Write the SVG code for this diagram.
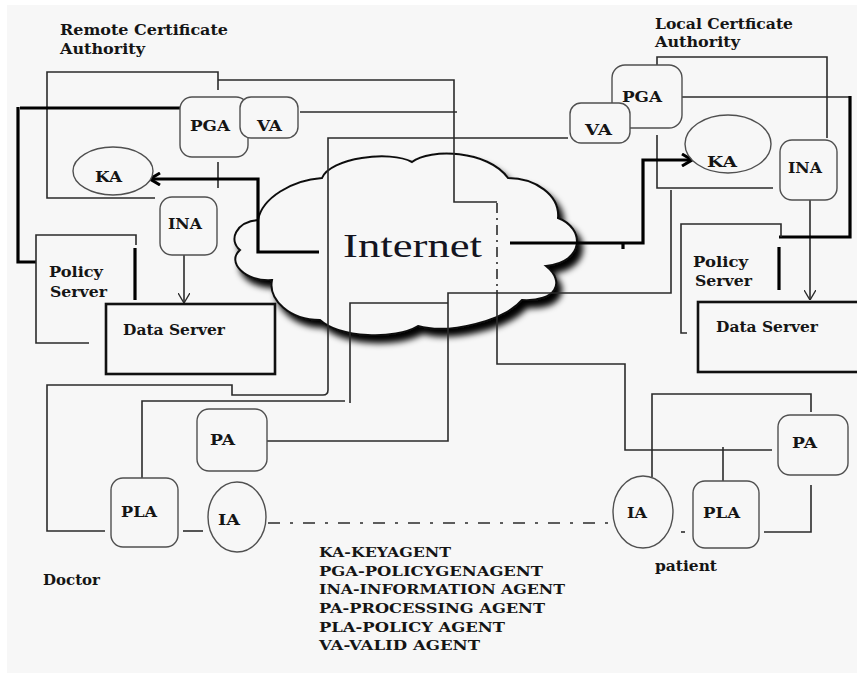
<svg xmlns="http://www.w3.org/2000/svg" width="857" height="673" viewBox="0 0 857 673">
<style>
.ln{fill:none;stroke:#2b2b2b;stroke-width:1.6}
.th{fill:none;stroke:#000;stroke-width:3.2}
.box{fill:#f7f7f7;stroke:#505050;stroke-width:1.4}
.ds{fill:none;stroke:#111;stroke-width:2.6}
.t{font-family:"DejaVu Serif","Liberation Serif",serif;font-weight:bold;font-size:14px;fill:#151515}
.lg{font-family:"DejaVu Serif","Liberation Serif",serif;font-weight:bold;font-size:13.5px;fill:#151515}
</style>
<defs>
<marker id="v" viewBox="0 0 10 12" refX="10" refY="6" markerWidth="10" markerHeight="12" markerUnits="userSpaceOnUse" orient="auto">
<path d="M0,0 L10,6 L0,12" fill="none" stroke="#2b2b2b" stroke-width="1.4"/>
</marker>
<marker id="vt" viewBox="0 0 12 14" refX="11" refY="7" markerWidth="12" markerHeight="14" markerUnits="userSpaceOnUse" orient="auto">
<path d="M1,1 L11,7 L1,13" fill="none" stroke="#000" stroke-width="3"/>
</marker>
<filter id="sh" x="-10%" y="-10%" width="130%" height="140%">
<feGaussianBlur in="SourceAlpha" stdDeviation="3"/>
<feOffset dx="5" dy="7" result="o"/>
<feMerge><feMergeNode in="o"/><feMergeNode in="SourceGraphic"/></feMerge>
</filter>
</defs>
<rect width="857" height="673" fill="#ffffff"/>
<rect x="7" y="5" width="850" height="668" fill="#f7f7f7"/>

<g id="internet">
<path d="M240,250 C228,240 236,222 258,220 C262,198 292,180 322,178 C330,158 390,150 412,162 C430,148 488,150 508,178 C535,178 560,195 558,218 C585,228 585,262 546,266 C566,282 556,302 522,300 C505,320 450,335 418,326 C395,340 340,338 320,320 C290,320 268,300 272,280 C245,282 226,262 240,250 Z" fill="#f7f7f7" stroke="#111" stroke-width="2" filter="url(#sh)"/>
<text x="343" y="257" font-family="'Liberation Serif',serif" font-size="34" fill="#141420" textLength="139" lengthAdjust="spacingAndGlyphs">Internet</text>
</g>

<g id="connectors">
<path class="ln" d="M155,198 H47 V72 H218 V90"/>
<path class="ln" d="M218,80 H454 V202 H497"/>
<path class="ln" d="M497,203 V290" stroke-dasharray="10,5,2,5"/>
<path class="ln" d="M497,290 V364 H625 V450 H772"/>
<path class="ln" d="M300,112 H457"/>
<path class="ln" d="M568,138 H328 V390 Q328,395 323,395 H232 V385 H47 V531 H105"/>
<path class="ln" d="M142,478 V401 H345"/>
<path class="ln" d="M350,403 V303 H448"/>
<path class="ln" d="M267,441 H448 V293 H671 V190"/>
<path class="ln" d="M657,135 V188 H773"/>
<path class="ln" d="M218,162 V188"/>
<path class="ln" d="M184,255 V303" marker-end="url(#v)"/>
<path class="ln" d="M810,200 V300" marker-end="url(#v)"/>
<path class="ln" d="M657,65 V57 H827 V138"/>
<path class="ln" d="M682,97 H850" stroke-width="2.2"/>
<path class="ln" d="M652,477 V394 H811 V412"/>
<path class="ln" d="M811,485 V532 H764"/>
<path class="ln" d="M723,447 V481"/>
<path class="ln" d="M183,531 H203"/>
<path class="ln" d="M268,523 H613" stroke-width="2.2" stroke-dasharray="12,10,3,10"/>
<path class="ln" d="M681,532 H685"/>
<path class="th" d="M20,108 H183"/>
<path class="th" d="M18,107 V262 H36"/>
<path class="th" d="M319,252 H258 V179 H150" marker-end="url(#vt)"/>
<path class="th" d="M510,243 H643 V160 H692" marker-end="url(#vt)"/>
<path class="th" d="M850,96 V237 H779"/>
<path class="th" d="M623,243 V249" stroke-width="2"/>
</g>

<g id="remote-ca-label">
<text class="t" x="60" y="35" textLength="168" lengthAdjust="spacingAndGlyphs">Remote Certificate</text>
<text class="t" x="60" y="54" textLength="85" lengthAdjust="spacingAndGlyphs">Authority</text>
</g>
<g id="local-ca-label">
<text class="t" x="655" y="29" textLength="138" lengthAdjust="spacingAndGlyphs">Local Certficate</text>
<text class="t" x="655" y="47" textLength="85" lengthAdjust="spacingAndGlyphs">Authority</text>
</g>

<g id="remote-pga">
<rect class="box" x="180" y="97" width="68" height="60" rx="12"/>
<text class="t" x="190" y="131" textLength="40" lengthAdjust="spacingAndGlyphs">PGA</text>
</g>
<g id="remote-va">
<rect class="box" x="240" y="97" width="58" height="41" rx="11"/>
<text class="t" x="257" y="131" textLength="25" lengthAdjust="spacingAndGlyphs">VA</text>
</g>
<g id="remote-ka">
<ellipse class="box" cx="113" cy="171" rx="40" ry="24"/>
<text class="t" x="95" y="182" textLength="27" lengthAdjust="spacingAndGlyphs">KA</text>
</g>
<g id="remote-ina">
<rect class="box" x="160" y="197" width="57" height="58" rx="12"/>
<text class="t" x="168" y="229" textLength="34" lengthAdjust="spacingAndGlyphs">INA</text>
</g>
<g id="remote-policy-server">
<path class="ln" d="M89,343 H36 V235 H136 V245"/>
<path class="th" d="M135,248 V300" stroke-width="2.6"/>
<text class="t" x="49" y="277" textLength="54" lengthAdjust="spacingAndGlyphs">Policy</text>
<text class="t" x="50" y="297" textLength="57" lengthAdjust="spacingAndGlyphs">Server</text>
</g>
<g id="remote-data-server">
<rect class="ds" x="106" y="304" width="169" height="70"/>
<text class="t" x="123" y="335" textLength="102" lengthAdjust="spacingAndGlyphs">Data Server</text>
</g>

<g id="local-pga">
<rect class="box" x="612" y="65" width="70" height="63" rx="13"/>
<text class="t" x="622" y="102" textLength="40" lengthAdjust="spacingAndGlyphs">PGA</text>
</g>
<g id="local-va">
<rect class="box" x="570" y="103" width="60" height="40" rx="11"/>
<text class="t" x="585" y="135" textLength="27" lengthAdjust="spacingAndGlyphs">VA</text>
</g>
<g id="local-ka">
<ellipse class="box" cx="728" cy="144" rx="43" ry="29"/>
<text class="t" x="707" y="167" textLength="30" lengthAdjust="spacingAndGlyphs">KA</text>
</g>
<g id="local-ina">
<rect class="box" x="780" y="140" width="57" height="60" rx="12"/>
<text class="t" x="788" y="173" textLength="34" lengthAdjust="spacingAndGlyphs">INA</text>
</g>
<g id="local-policy-server">
<path class="ln" d="M687,333 H681 V224 H781 V237"/>
<path class="th" d="M779,247 V290" stroke-width="2.8"/>
<text class="t" x="693" y="267" textLength="55" lengthAdjust="spacingAndGlyphs">Policy</text>
<text class="t" x="695" y="286" textLength="57" lengthAdjust="spacingAndGlyphs">Server</text>
</g>
<g id="local-data-server">
<rect class="ds" x="698" y="302" width="165" height="70"/>
<text class="t" x="716" y="332" textLength="102" lengthAdjust="spacingAndGlyphs">Data Server</text>
</g>

<g id="doctor-pa">
<rect class="box" x="197" y="409" width="70" height="62" rx="12"/>
<text class="t" x="210" y="445" textLength="25" lengthAdjust="spacingAndGlyphs">PA</text>
</g>
<g id="doctor-pla">
<rect class="box" x="111" y="478" width="67" height="69" rx="12"/>
<text class="t" x="121" y="517" textLength="36" lengthAdjust="spacingAndGlyphs">PLA</text>
</g>
<g id="doctor-ia">
<ellipse class="box" cx="237" cy="517" rx="29" ry="35"/>
<text class="t" x="218" y="525" textLength="22" lengthAdjust="spacingAndGlyphs">IA</text>
</g>
<g id="doctor-label">
<text class="t" x="43" y="585" textLength="57" lengthAdjust="spacingAndGlyphs">Doctor</text>
</g>

<g id="patient-pa">
<rect class="box" x="778" y="415" width="70" height="60" rx="12"/>
<text class="t" x="792" y="448" textLength="25" lengthAdjust="spacingAndGlyphs">PA</text>
</g>
<g id="patient-pla">
<rect class="box" x="693" y="481" width="66" height="67" rx="12"/>
<text class="t" x="703" y="518" textLength="37" lengthAdjust="spacingAndGlyphs">PLA</text>
</g>
<g id="patient-ia">
<ellipse class="box" cx="643" cy="512" rx="30" ry="36"/>
<text class="t" x="627" y="518" textLength="20" lengthAdjust="spacingAndGlyphs">IA</text>
</g>
<g id="patient-label">
<text class="t" x="655" y="571" textLength="62" lengthAdjust="spacingAndGlyphs">patient</text>
</g>

<g id="legend">
<text class="lg" x="319" y="557" textLength="132" lengthAdjust="spacingAndGlyphs">KA-KEYAGENT</text>
<text class="lg" x="319" y="576" textLength="224" lengthAdjust="spacingAndGlyphs">PGA-POLICYGENAGENT</text>
<text class="lg" x="319" y="594" textLength="246" lengthAdjust="spacingAndGlyphs">INA-INFORMATION AGENT</text>
<text class="lg" x="319" y="613" textLength="226" lengthAdjust="spacingAndGlyphs">PA-PROCESSING AGENT</text>
<text class="lg" x="319" y="632" textLength="186" lengthAdjust="spacingAndGlyphs">PLA-POLICY AGENT</text>
<text class="lg" x="319" y="650" textLength="161" lengthAdjust="spacingAndGlyphs">VA-VALID AGENT</text>
</g>
</svg>
